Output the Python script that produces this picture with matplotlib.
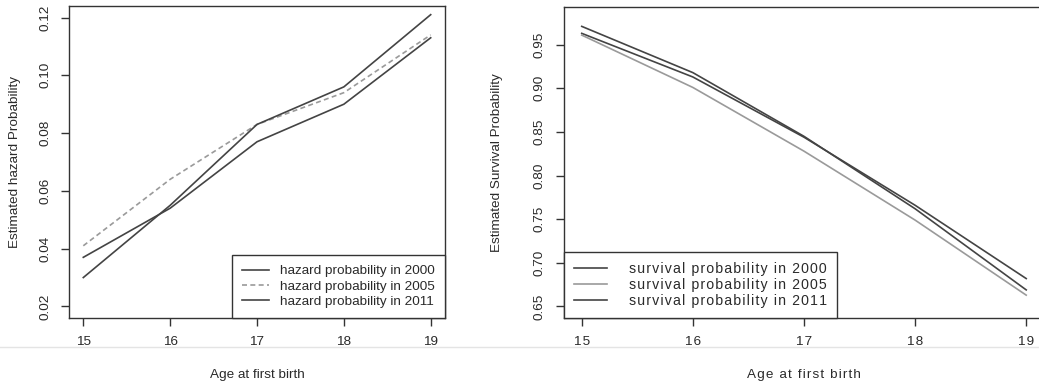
import numpy as np
import matplotlib
matplotlib.use("Agg")
import matplotlib.pyplot as plt
from matplotlib.lines import Line2D

plt.rcParams['font.family'] = ['Liberation Sans', 'DejaVu Sans']
plt.rcParams['font.size'] = 9.7

# data
age = [15, 16, 17, 18, 19]
years = ['2000', '2005', '2011']
hazard_2000 = [0.037, 0.054, 0.077, 0.090, 0.113]
hazard_2005 = [0.041, 0.064, 0.083, 0.094, 0.114]
hazard_2011 = [0.030, 0.055, 0.083, 0.096, 0.121]
surv_2000 = [0.963, 0.913, 0.844, 0.766, 0.682]
surv_2005 = [0.961, 0.901, 0.828, 0.749, 0.663]
surv_2011 = [0.971, 0.918, 0.845, 0.762, 0.669]
haz_ticks = [0.02, 0.04, 0.06, 0.08, 0.10, 0.12]
surv_ticks = [0.65, 0.70, 0.75, 0.80, 0.85, 0.90, 0.95]

dark = '#444444'
light = '#9a9a9a'
frame = '#333333'
txt = '#2a2a2a'


def spaced(s):
    # the scanned right panel has wide letter spacing
    return '\u200a'.join(s)


def rpad(lo, hi):
    d = (hi - lo) * 0.04
    return lo - d, hi + d


def style(ax):
    for sp in ax.spines.values():
        sp.set_color(frame)
        sp.set_linewidth(1.0)
    ax.tick_params(direction='out', length=6, width=1.0, color=frame,
                   labelcolor=txt, pad=7)
    ax.set_xlim(*rpad(15, 19))
    ax.set_xticks(age)


fig = plt.figure(figsize=(10.39, 3.87), dpi=100)

# ---- left: hazard ----
ax1 = fig.add_axes([0.0668, 0.1783, 0.3611, 0.8062])
style(ax1)
ax1.plot(age, hazard_2000, color=dark, lw=1.2, label='hazard probability in ' + years[0])
ax1.plot(age, hazard_2005, color=light, lw=1.2, ls=(0, (3, 2)), label='hazard probability in ' + years[1])
ax1.plot(age, hazard_2011, color=dark, lw=1.2, label='hazard probability in ' + years[2])
ax1.set_ylim(*rpad(0.02, 0.12))
ax1.set_yticks(haz_ticks)
ax1.set_yticklabels(['%.2f' % v for v in haz_ticks], rotation=90, va='center')
ax1.set_ylabel('Estimated hazard Probability', color=txt)
ax1.yaxis.set_label_coords(-0.129, 0.5)
ax1.set_xlabel('Age at first birth', color=txt, va='center')
ax1.xaxis.set_label_coords(0.5, -0.183)
leg1 = ax1.legend(loc='lower right', bbox_to_anchor=(1, 0), borderaxespad=0,
                  fancybox=False, edgecolor=frame, framealpha=1,
                  handlelength=2.0, handletextpad=0.8, labelspacing=0.21,
                  borderpad=0.75, labelcolor=txt)
leg1.get_frame().set_linewidth(1.0)

# ---- right: survival ----
ax2 = fig.add_axes([0.5428, 0.1783, 0.462, 0.8036])
style(ax2)
ax2.plot(age, surv_2000, color=dark, lw=1.2, label=spaced('survival probability in ' + years[0]))
ax2.plot(age, surv_2005, color=light, lw=1.2, label=spaced('survival probability in ' + years[1]))
ax2.plot(age, surv_2011, color=dark, lw=1.2, label=spaced('survival probability in ' + years[2]))
ax2.set_ylim(*rpad(0.65, 0.98))
ax2.set_yticks(surv_ticks)
ax2.set_yticklabels(['%.2f' % v for v in surv_ticks], rotation=90, va='center')
ax2.set_xticklabels([spaced(str(a)) for a in age])
ax2.set_ylabel('Estimated Survival Probability', color=txt)
ax2.yaxis.set_label_coords(-0.127, 0.5)
ax2.set_xlabel(spaced('Age at first birth'), color=txt, va='center')
ax2.xaxis.set_label_coords(0.5, -0.183)
leg2 = ax2.legend(loc='lower left', bbox_to_anchor=(0, 0), borderaxespad=0,
                  fancybox=False, edgecolor=frame, framealpha=1,
                  handlelength=2.3, handletextpad=1.55, labelspacing=0.12,
                  borderpad=0.72, labelcolor=txt, fontsize=10.2)
leg2.get_frame().set_linewidth(1.0)

# faint fold line from the scan
fig.add_artist(Line2D([0, 1], [1 - 347 / 387, 1 - 347 / 387], color='#e4e4e4', lw=1.0))

fig.savefig('out.png', dpi=100)
